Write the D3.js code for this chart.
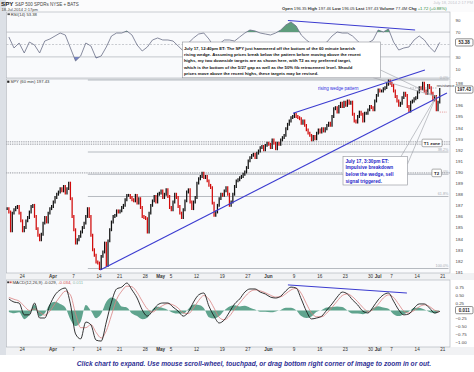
<!DOCTYPE html>
<html><head><meta charset="utf-8">
<script src="https://cdnjs.cloudflare.com/ajax/libs/d3/7.8.5/d3.min.js"></script>
<style>
body{margin:0;background:#fff;}
svg{display:block;font-family:"Liberation Sans",Arial,sans-serif;}
</style></head><body>
<svg id="chart" width="474" height="372"></svg>
<script>
// trading days shown on the 60 min chart
const marDays = [19,20,21,24,25,26,27,28,31];
const aprDays = [1,2,3,4,7,8,9,10,11,14,15,16,17,21,22,23,24,25,28,29,30];
const mayDays = [1,2,5,6,7,8,9,12,13,14,15,16,19,20,21,22,23,27,28,29,30];
const junDays = [2,3,4,5,6,9,10,11,12,13,16,17,18,19,20,23,24,25,26,27,30];
const julDays = [1,2,3,7,8,9,10,11,14,15,16,17,18,21,22];

const tickDates  = ['Mar 24','Apr 1','Apr 7','Apr 14','Apr 21','Apr 28','May 1','May 5','May 12','May 19','May 27','Jun 2','Jun 9','Jun 16','Jun 23','Jun 30','Jul 1','Jul 7','Jul 14','Jul 21'];
const tickLabels = ['24','Apr','7','14','21','28','May','5','12','19','27','Jun','9','16','23','30','Jul','7','14','21'];

// price, three readings per trading day
const priceBars = [
 [186.7,186.4,184.7],[186.3,186.6,186.8],[186.9,186.3,185.6],[184.7,185.0,185.6],[185.9,186.4,186.9],
 [187.0,186.0,184.9],[184.3,183.9,184.4],[185.4,185.9,185.5],[186.3,186.7,186.9],[187.3,187.7,188.0],
 [188.2,188.5,188.3],[188.7,188.1,188.5],[189.0,187.6,186.0],[184.8,183.6,183.9],[184.2,184.6,185.0],
 [185.4,186.0,186.7],[186.0,184.3,183.0],[182.5,181.9,181.8],[181.3,182.4,182.8],[183.6,181.6,183.8],
 [184.8,185.5,186.0],[186.1,186.5,186.4],[186.5,186.8,187.0],[187.5,187.9,187.9],[187.7,187.5,187.4],
 [187.9,187.2,187.6],[186.8,186.0,185.9],[185.8,184.6,186.3],[187.0,187.4,187.8],[187.3,188.0,188.1],
 [188.3,187.7,188.0],[188.4,187.8,186.8],[186.6,187.3,188.0],[187.7,186.9,186.3],[185.9,186.6,187.4],
 [188.2,188.4,187.3],[186.7,187.3,187.7],[189.0,189.4,189.6],[189.9,189.5,189.6],[189.2,188.8,188.6],
 [187.2,186.1,186.4],[187.0,187.6,188.0],[187.9,188.3,188.6],[188.0,187.0,187.3],[188.0,188.7,189.2],
 [189.3,189.5,189.6],[189.8,190.0,190.4],[191.0,191.3,191.5],[191.6,191.3,191.7],[191.9,192.2,192.3],
 [192.0,192.4,192.6],[192.5,192.2,192.9],[192.6,192.1,192.6],[192.5,192.9,193.1],[193.3,193.9,194.3],
 [194.6,194.9,195.0],[195.2,195.0,194.9],[194.8,194.4,194.6],[194.2,193.8,193.5],[193.3,192.9,193.2],
 [193.0,193.5,193.8],[193.6,193.9,193.7],[193.9,194.2,194.4],[194.2,195.0,195.7],[195.8,195.4,195.9],
 [196.2,195.9,196.3],[196.0,196.4,196.2],[196.3,195.2,194.6],[194.5,195.0,195.4],[195.2,194.6,195.3],
 [195.3,195.6,195.9],[195.8,195.6,196.4],[196.9,197.4,197.3],[197.3,197.5,197.6],[197.9,198.2,198.0],
 [197.8,197.3,196.8],[196.4,196.0,196.2],[196.7,197.1,196.9],[195.9,195.5,196.3],[196.4,196.6,196.7],
 [197.2,197.6,197.5],[198.0,197.3,197.1],[197.8,197.6,197.1],[196.5,196.8,195.6],[196.3,197.43]
];

// RSI(14), one reading per day
const rsiValues = [62.1,44.4,52.4,36.3,54,49.2,36.3,55.6,58.9,63.7,68.5,65.3,44.4,23.4,31.5,52.4,47.6,28.2,31.5,46,
 63.7,68.5,68.5,71.8,65.3,49.2,39.5,46,57.3,60.5,57.3,57.3,55.6,47.6,39.5,52.4,60.5,66.9,68.5,58.9,
 46,50.8,57.3,57.3,55.6,62.1,68.5,73.4,71.8,68.5,66.9,65.3,68.5,73.4,81.5,86.3,79.8,65.3,57.3,50.8,
 46,49.2,54,63.7,70.2,68.5,68.5,63.7,55.6,47.6,52.4,57.3,73.4,70.2,75,54,41.1,44.4,46,57.3,
 63.7,57.3,46,37.9,53.38];

// MACD(12,26,9), one reading per day
const macdValues = [0.37,0.27,0.24,-0.14,-0.14,0.24,-0.24,-0.24,0.18,0.5,0.66,0.72,0.21,-0.75,-0.91,-0.37,-0.46,-0.95,-0.98,-0.37,
 0.27,0.69,0.75,0.88,0.66,0.4,0.02,-0.18,-0.02,0.18,0.24,0.24,0.11,-0.02,-0.18,-0.05,0.27,0.5,0.56,0.14,
 -0.18,-0.4,-0.3,-0.05,0.21,0.37,0.59,0.69,0.69,0.59,0.53,0.43,0.4,0.46,0.63,0.75,0.72,0.37,-0.02,-0.27,
 -0.24,-0.18,0.02,0.21,0.43,0.59,0.53,0.34,0.18,-0.02,-0.08,0.11,0.34,0.5,0.56,0.3,0.02,-0.14,-0.11,0.08,
 0.21,0.21,0.08,-0.08,-0.029];
const signalValues = [0.42,0.36,0.3,0.14,0.0,0.05,-0.05,-0.15,-0.02,0.22,0.45,0.62,0.5,-0.1,-0.55,-0.55,-0.45,-0.7,-0.88,-0.65,
 -0.15,0.35,0.62,0.78,0.76,0.58,0.3,0.05,-0.05,0.06,0.16,0.22,0.18,0.08,-0.08,-0.1,0.08,0.32,0.48,0.36,
 0.08,-0.22,-0.3,-0.18,0.04,0.24,0.44,0.6,0.66,0.63,0.57,0.49,0.43,0.44,0.54,0.66,0.71,0.55,0.22,-0.08,
 -0.2,-0.2,-0.08,0.1,0.3,0.48,0.53,0.44,0.28,0.1,-0.03,0.03,0.2,0.4,0.5,0.42,0.2,-0.02,-0.08,0.0,
 0.12,0.18,0.13,0.01,-0.034];
const histValues = [-0.05,-0.09,-0.06,-0.28,-0.14,0.19,-0.19,-0.09,0.2,0.28,0.21,0.1,-0.29,-0.5,-0.36,0.18,-0.01,-0.25,-0.1,0.28,
 0.42,0.34,0.13,0.1,-0.1,-0.18,-0.28,-0.23,0.03,0.12,0.08,0.02,-0.07,-0.1,-0.1,0.05,0.19,0.18,0.08,-0.22,
 -0.26,-0.18,0.0,0.13,0.17,0.13,0.15,0.09,0.03,-0.04,-0.04,-0.06,-0.03,0.02,0.09,0.09,0.01,-0.18,-0.24,-0.19,
 -0.04,0.02,0.1,0.11,0.13,0.11,0.0,-0.1,-0.1,-0.12,-0.05,0.08,0.14,0.1,0.06,-0.12,-0.18,-0.12,-0.03,0.08,
 0.09,0.03,-0.05,-0.09,0.011];

// fib retracement between the April low and the July high
const fibHigh = 198.29, fibLow = 181.31;
const fibLevels = [0, 0.382, 0.5, 0.618, 1];
const fibNames  = ['0.0%','38.2%','50.0%','61.8%','100.0%'];
const t1Zone = [192.72, 192.51];
const t2Level = 189.92;

// trendlines as [day index, value] pairs
const wedgeLower = [[18.3,181.18],[85.9,197.12]];
const wedgeUpper = [[55.9,195.3],[81.6,199.2]];
const rsiTrend   = [[54.9,88.7],[79.7,73.4]];
const macdTrend  = [[54.9,0.82],[78.1,0.56]];
const breakPoint = [83.8,196.8];

const priceTicks = [181,182,183,184,185,186,187,188,189,190,191,192,193,194,195,196,198];
const rsiTicks = [10,30,70,90];
const macdTicks = [-1,-0.75,-0.5,-0.25,0.25,0.5,0.75];

const note1 = ['July 17, 12:40pm ET: The SPY just hammered off the bottom of the 60 minute bearish',
 'rising wedge. Assuming prices break below the pattern before moving above the recent',
 'highs, my two downside targets are as shown here, with T2 as my preferred target,',
 'which is the bottom of the 5/27 gap as well as the 50% fib retracement level. Should',
 'prices move above the recent highs, these targets may be revised.'];
const note2 = ['July 17, 3:30pm ET:','Impulsive breakdown','below the wedge, sell','signal triggered.'];

// ---------------------------------------------------------------
const dayKeys = [];
[['Mar',marDays],['Apr',aprDays],['May',mayDays],['Jun',junDays],['Jul',julDays]]
  .forEach(([m,ds]) => ds.forEach(d => dayKeys.push(m + ' ' + d)));
const tickIdx = tickDates.map(k => dayKeys.indexOf(k));

const svg = d3.select('#chart');
const PL = 6.3, PR = 450;
const rsiP = {top:12, bottom:78}, priceP = {top:79, bottom:273}, macdP = {top:280, bottom:347};

const x = d3.scaleLinear().domain([0, 86.5]).range([PL, PR]);
const yP = d3.scaleLinear().domain([fibLow, fibHigh]).range([268.5, 80]);
const yR = d3.scaleLinear().domain([10, 90]).range([69.3, 19.7]);
const yM = d3.scaleLinear().domain([-1, 0.75]).range([341.7, 287.1]);

svg.append('rect').attr('width',474).attr('height',372).attr('fill','#fff');
svg.append('rect').attr('x',0).attr('y',0).attr('width',6).attr('height',355).attr('fill','#dce0e6');
svg.append('rect').attr('x',6).attr('y',0).attr('width',468).attr('height',12).attr('fill','#fbfbfc');
svg.append('rect').attr('x',6).attr('y',273).attr('width',468).attr('height',7).attr('fill','#f1f2f4');
svg.append('rect').attr('x',6).attr('y',347).attr('width',468).attr('height',8).attr('fill','#f1f2f4');

[rsiP, priceP, macdP].forEach(p => {
  svg.append('rect').attr('x',6.5).attr('y',p.top).attr('width',PR-6.5).attr('height',p.bottom-p.top)
    .attr('fill','#f9fafc').attr('stroke','#a9aeb6').attr('stroke-width',0.6);
});

// header
const hdr = svg.append('g');
hdr.append('text').attr('x',1).attr('y',6).attr('font-size',6.2).attr('font-weight','bold').attr('fill','#222').text('SPY');
hdr.append('text').attr('x',15).attr('y',5.6).attr('font-size',4.5).attr('fill','#444').text('S&P 500 SPDRs NYSE + BATS');
hdr.append('text').attr('x',1.5).attr('y',11.2).attr('font-size',4.1).attr('fill','#444').text('18-Jul-2014 2:17pm');
hdr.append('text').attr('x',473).attr('y',4).attr('text-anchor','end').attr('font-size',4).attr('fill','#c4c6cc').text('July 18, 2014 2:17 PM');
const quote = hdr.append('text').attr('x',282).attr('y',9.5).attr('font-size',4.2).attr('fill','#333');
[['Open',' 196.35 '],['High',' 197.46 '],['Low',' 196.05 '],['Last',' 197.43 '],['Volume',' 77.4M '],['Chg','']].forEach(([k,v]) => {
  quote.append('tspan').attr('font-weight','bold').text(k);
  quote.append('tspan').text(v);
});
quote.append('tspan').attr('fill','#2a8a3a').text(' +1.72 (+0.88%)');

// x axes
function xAxis(yPos){
  const g = svg.append('g').attr('transform',`translate(0,${yPos})`)
    .call(d3.axisBottom(x).tickValues(tickIdx).tickSize(0).tickPadding(1.4).tickFormat((d,i) => tickLabels[i]));
  g.attr('font-size',4.6).attr('font-family',null);
  g.select('.domain').remove();
  g.selectAll('text').attr('fill','#333')
    .attr('font-weight',(d,i) => /[A-Za-z]/.test(tickLabels[i]) ? 'bold' : 'normal')
    .attr('dx',(d,i) => tickLabels[i] === 'Jul' ? 2 : (tickLabels[i] === '30' ? -0.5 : 0));
}
xAxis(273.6);
xAxis(346.8);

function yAxis(scale, ticks, fmt){
  const g = svg.append('g').attr('transform',`translate(${PR+1.5},0)`)
    .call(d3.axisRight(scale).tickValues(ticks).tickSize(0).tickPadding(4).tickFormat(fmt));
  g.attr('font-size',4.4).attr('font-family',null);
  g.select('.domain').remove();
  g.selectAll('text').attr('fill','#444');
}
yAxis(yP, priceTicks, d3.format('d'));
yAxis(yR, rsiTicks, d3.format('d'));
yAxis(yM, macdTicks, d3.format('.2f'));

function valueBox(yPos, label){
  svg.append('rect').attr('x',455.5).attr('y',yPos-3.6).attr('width',17.5).attr('height',7.2)
    .attr('fill','#fff').attr('stroke','#444').attr('stroke-width',0.6).attr('rx',1.2);
  svg.append('text').attr('x',464.2).attr('y',yPos+1.6).attr('text-anchor','middle')
    .attr('font-size',4.5).attr('font-weight','bold').attr('fill','#222').text(label);
}

// ---------------- RSI panel
const rsiData = rsiValues.map((v,i) => ({t: i + 0.5, v}));
svg.append('defs').call(d => {
  d.append('clipPath').attr('id','above70').append('rect').attr('x',PL).attr('y',rsiP.top).attr('width',PR-PL).attr('height',yR(70)-rsiP.top);
  d.append('clipPath').attr('id','below30').append('rect').attr('x',PL).attr('y',yR(30)).attr('width',PR-PL).attr('height',rsiP.bottom-yR(30));
});
[70,30].forEach(v => svg.append('line').attr('x1',6.5).attr('x2',PR).attr('y1',yR(v)).attr('y2',yR(v)).attr('stroke','#9ea3ab').attr('stroke-width',0.6));
svg.append('line').attr('x1',6.5).attr('x2',PR).attr('y1',yR(50)).attr('y2',yR(50)).attr('stroke','#a8acb3').attr('stroke-width',0.6).attr('stroke-dasharray','2,1.5');
svg.append('path').datum(rsiData).attr('clip-path','url(#above70)').attr('fill','#5e9c7c')
  .attr('d', d3.area().x(d => x(d.t)).y0(yR(70)).y1(d => yR(d.v)));
svg.append('path').datum(rsiData).attr('clip-path','url(#below30)').attr('fill','#7584c4')
  .attr('d', d3.area().x(d => x(d.t)).y0(yR(30)).y1(d => yR(d.v)));
svg.append('path').datum(rsiData).attr('fill','none').attr('stroke','#6a6e86').attr('stroke-width',0.8)
  .attr('d', d3.line().x(d => x(d.t)).y(d => yR(d.v)));
svg.append('line').attr('stroke','#3b3bd0').attr('stroke-width',1)
  .attr('x1',x(rsiTrend[0][0])).attr('y1',yR(rsiTrend[0][1])).attr('x2',x(rsiTrend[1][0])).attr('y2',yR(rsiTrend[1][1]));
svg.append('rect').attr('x',7.5).attr('y',13.3).attr('width',2.4).attr('height',1.8).attr('fill','#555');
svg.append('text').attr('x',10.8).attr('y',16).attr('font-size',4.2).attr('fill','#333').text('RSI(14) 53.38');
valueBox(yR(53.38), '53.38');

// ---------------- price panel
const pg = svg.append('g');
fibLevels.forEach((f,i) => {
  const p = fibHigh - f*(fibHigh - fibLow);
  pg.append('line').attr('x1',x(15.9)).attr('x2',x(86.2)).attr('y1',yP(p)).attr('y2',yP(p)).attr('stroke','#9a9ea6').attr('stroke-width',0.7);
  pg.append('text').attr('x',x(86.2)).attr('y',yP(p)-1.2).attr('text-anchor','end').attr('font-size',3.8).attr('fill','#a9adb4').text(fibNames[i]);
});
t1Zone.concat([t2Level]).forEach(p => {
  pg.append('line').attr('x1',6.5).attr('x2',PR).attr('y1',yP(p)).attr('y2',yP(p))
    .attr('stroke','#6d7078').attr('stroke-width',0.8).attr('stroke-dasharray','0.9,0.9');
});

const bars = [];
let prev = priceBars[0][0];
priceBars.forEach((vals,i) => vals.forEach((v,j) => { bars.push({t: i + (j+0.5)/3, o: prev, c: v}); prev = v; }));
pg.selectAll('line.bar').data(bars).join('line').attr('class','bar')
  .attr('x1',d => x(d.t)).attr('x2',d => x(d.t))
  .attr('y1',d => yP(Math.max(d.o,d.c) + 0.13)).attr('y2',d => yP(Math.min(d.o,d.c) - 0.13))
  .attr('stroke',d => d.c >= d.o ? '#111' : '#d10a0a').attr('stroke-width',1.25);

[wedgeLower, wedgeUpper].forEach(l => pg.append('line').attr('stroke','#3b3bd0').attr('stroke-width',1.1)
  .attr('x1',x(l[0][0])).attr('y1',yP(l[0][1])).attr('x2',x(l[1][0])).attr('y2',yP(l[1][1])));

// resistance marker and the Jul 17 low
pg.append('line').attr('x1',x(78.7)).attr('x2',x(83.9)).attr('y1',yP(197.57)).attr('y2',yP(197.57))
  .attr('stroke','#8d9098').attr('stroke-width',0.6).attr('stroke-dasharray','1.5,1');
pg.append('text').attr('x',x(83.9)).attr('y',yP(197.57)-1.2).attr('font-size',3.9).attr('fill','#333').text('resistance');
pg.append('line').attr('x1',x(84.5)).attr('x2',x(85.9)).attr('y1',yP(195.4)).attr('y2',yP(195.4))
  .attr('stroke','#e07a7a').attr('stroke-width',0.7).attr('stroke-dasharray','1.2,1');

pg.append('text').attr('x',318).attr('y',90).attr('font-size',4.5).attr('fill','#2d2de0').text('rising wedge pattern');

// target boxes
function tagBox(t, p, w, label){
  const cx = x(t), cy = yP(p);
  pg.append('rect').attr('x',cx-w/2).attr('y',cy-3.8).attr('width',w).attr('height',7.6)
    .attr('fill','#fff').attr('stroke','#777').attr('stroke-width',0.6).attr('rx',1);
  pg.append('text').attr('x',cx).attr('y',cy+1.6).attr('text-anchor','middle').attr('font-size',4.4).attr('font-weight','bold').attr('fill','#222').text(label);
}
tagBox(83.0, 192.62, 20, 'T1 zone');
tagBox(83.9, t2Level, 9.5, 'T2');

svg.append('rect').attr('x',7.2).attr('y',80.6).attr('width',2.2).attr('height',2.2).attr('fill','#222');
svg.append('text').attr('x',10.5).attr('y',83.4).attr('font-size',4.2).attr('fill','#333').text('SPY (60 min) 197.43');
valueBox(yP(197.43), '197.43');

// ---------------- MACD panel
const macdData = macdValues.map((v,i) => ({t: i + 0.5, m: v, s: signalValues[i], h: histValues[i]}));
svg.append('path').datum(macdData).attr('fill','#4f9a82').attr('opacity',0.9)
  .attr('d', d3.area().x(d => x(d.t)).y0(yM(0)).y1(d => yM(d.h)).curve(d3.curveMonotoneX));
svg.append('path').datum(macdData).attr('fill','none').attr('stroke','#d98080').attr('stroke-width',0.8)
  .attr('d', d3.line().x(d => x(d.t)).y(d => yM(d.s)).curve(d3.curveMonotoneX));
svg.append('path').datum(macdData).attr('fill','none').attr('stroke','#111').attr('stroke-width',0.85)
  .attr('d', d3.line().x(d => x(d.t)).y(d => yM(d.m)).curve(d3.curveMonotoneX));
svg.append('line').attr('stroke','#3b3bd0').attr('stroke-width',1)
  .attr('x1',x(macdTrend[0][0])).attr('y1',yM(macdTrend[0][1])).attr('x2',x(macdTrend[1][0])).attr('y2',yM(macdTrend[1][1]));
svg.append('rect').attr('x',7.2).attr('y',281.4).attr('width',2).attr('height',1.8).attr('fill','#333');
svg.append('rect').attr('x',9.6).attr('y',281.4).attr('width',2).attr('height',1.8).attr('fill','#c55');
const ml = svg.append('text').attr('x',12.5).attr('y',283.8).attr('font-size',4.3).attr('fill','#333');
ml.append('tspan').text('MACD(12,26,9) -0.029, ');
ml.append('tspan').attr('fill','#d04848').text('-0.034, ');
ml.append('tspan').attr('fill','#8fb8ac').text('0.011');
valueBox(yM(0.011), '0.011');

// ---------------- notes and pointers
const tipX = x(breakPoint[0]), tipY = yP(breakPoint[1]);
[[373,77.6],[380.5,70]].forEach(([sx,sy]) => svg.append('line').attr('x1',sx).attr('y1',sy).attr('x2',tipX).attr('y2',tipY).attr('stroke','#9a9da4').attr('stroke-width',0.6));
[[401,156.5],[407.5,164]].forEach(([sx,sy]) => svg.append('line').attr('x1',sx).attr('y1',sy).attr('x2',tipX).attr('y2',tipY).attr('stroke','#9a9da4').attr('stroke-width',0.6));

svg.append('rect').attr('x',182.5).attr('y',42).attr('width',198).attr('height',35.8)
  .attr('fill','#fff').attr('stroke','#8e9198').attr('stroke-width',0.6);
svg.append('g').selectAll('text').data(note1).join('text')
  .attr('x',184).attr('y',(d,i) => 50.2 + i*6.1).attr('font-size',4.25).attr('font-weight','bold').attr('fill','#111').text(d => d);

svg.append('rect').attr('x',343).attr('y',156.5).attr('width',64.5).attr('height',28.5)
  .attr('fill','#fff').attr('stroke','#8e9198').attr('stroke-width',0.6);
svg.append('g').selectAll('text').data(note2).join('text')
  .attr('x',345.5).attr('y',(d,i) => 162.7 + i*6.6).attr('font-size',4.7).attr('font-weight','bold').attr('fill','#2424c8').text(d => d);

// footer
svg.append('text').attr('x',254).attr('y',366).attr('text-anchor','middle')
  .attr('font-size',6.6).attr('font-weight','bold').attr('font-style','italic').attr('fill','#2e2f94')
  .text('Click chart to expand. Use mouse scroll-wheel, touchpad, or drag bottom right corner of image to zoom in or out.');
</script>
</body></html>
